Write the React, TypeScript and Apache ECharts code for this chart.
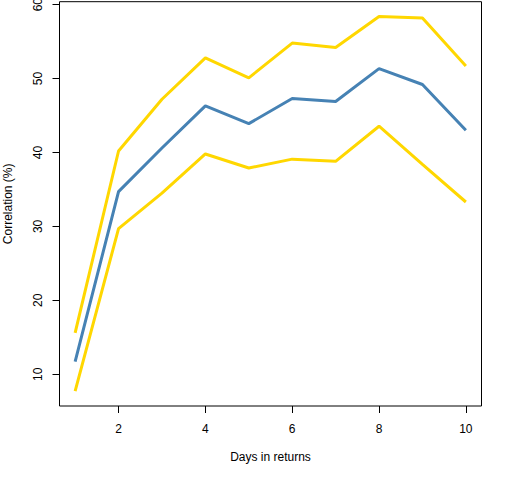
import React, { useEffect, useRef } from "react";
import * as echarts from "echarts";

const days = [1, 2, 3, 4, 5, 6, 7, 8, 9, 10];
const upper = [15.6, 40.2, 47.2, 52.8, 50.1, 54.8, 54.2, 58.4, 58.2, 51.7];
const middle = [11.7, 34.7, 40.6, 46.3, 43.9, 47.3, 46.9, 51.35, 49.2, 43.0];
const lower = [7.7, 29.7, 34.5, 39.8, 37.9, 39.1, 38.8, 43.55, 38.4, 33.3];
const xTicks = [2, 4, 6, 8, 10];
const yTicks = [10, 20, 30, 40, 50, 60];

const pairs = (vals: number[]) => days.map((d, i) => [d, vals[i]]);

export default function App() {
  const ref = useRef<HTMLDivElement>(null);
  useEffect(() => {
    const chart = echarts.init(ref.current!, null, { renderer: "svg" });
    const font = "Liberation Sans, Arial, sans-serif";
    chart.setOption({
      animation: false,
      backgroundColor: "#fff",
      grid: {
        left: 59.5,
        right: 30.5,
        top: 1.7,
        bottom: 74,
        show: true,
        borderColor: "#000",
        borderWidth: 1,
        backgroundColor: "transparent",
        containLabel: false,
        outerBoundsMode: "none",
      },
      xAxis: {
        type: "value",
        min: 0.64,
        max: 10.36,
        name: "Days in returns",
        nameLocation: "middle",
        nameGap: 45,
        nameTextStyle: { color: "#000", fontSize: 12, fontFamily: font },
        axisLine: { show: false },
        splitLine: { show: false },
        axisTick: {
          show: true,
          length: 7,
          customValues: xTicks,
          lineStyle: { color: "#000", width: 1 },
        },
        axisLabel: {
          customValues: xTicks,
          margin: 17,
          color: "#000",
          fontSize: 12,
          fontFamily: font,
        },
      },
      yAxis: {
        type: "value",
        min: 5.7,
        max: 60.4,
        name: "Correlation (%)",
        nameLocation: "middle",
        nameGap: 46,
        nameTextStyle: { color: "#000", fontSize: 12, fontFamily: font },
        axisLine: { show: false },
        splitLine: { show: false },
        axisTick: {
          show: true,
          length: 7,
          customValues: yTicks,
          lineStyle: { color: "#000", width: 1 },
        },
        axisLabel: {
          customValues: yTicks,
          rotate: 90,
          margin: 16,
          color: "#000",
          fontSize: 12,
          fontFamily: font,
        },
      },
      series: [
        {
          type: "line",
          data: pairs(upper),
          symbol: "none",
          lineStyle: { color: "#FFD700", width: 3 },
        },
        {
          type: "line",
          data: pairs(lower),
          symbol: "none",
          lineStyle: { color: "#FFD700", width: 3 },
        },
        {
          type: "line",
          data: pairs(middle),
          symbol: "none",
          lineStyle: { color: "#4682B4", width: 3 },
        },
      ],
    });
    return () => chart.dispose();
  }, []);
  return (
    <div
      ref={ref}
      style={{ position: "absolute", left: 0, top: 0, width: 512, height: 480 }}
    />
  );
}
